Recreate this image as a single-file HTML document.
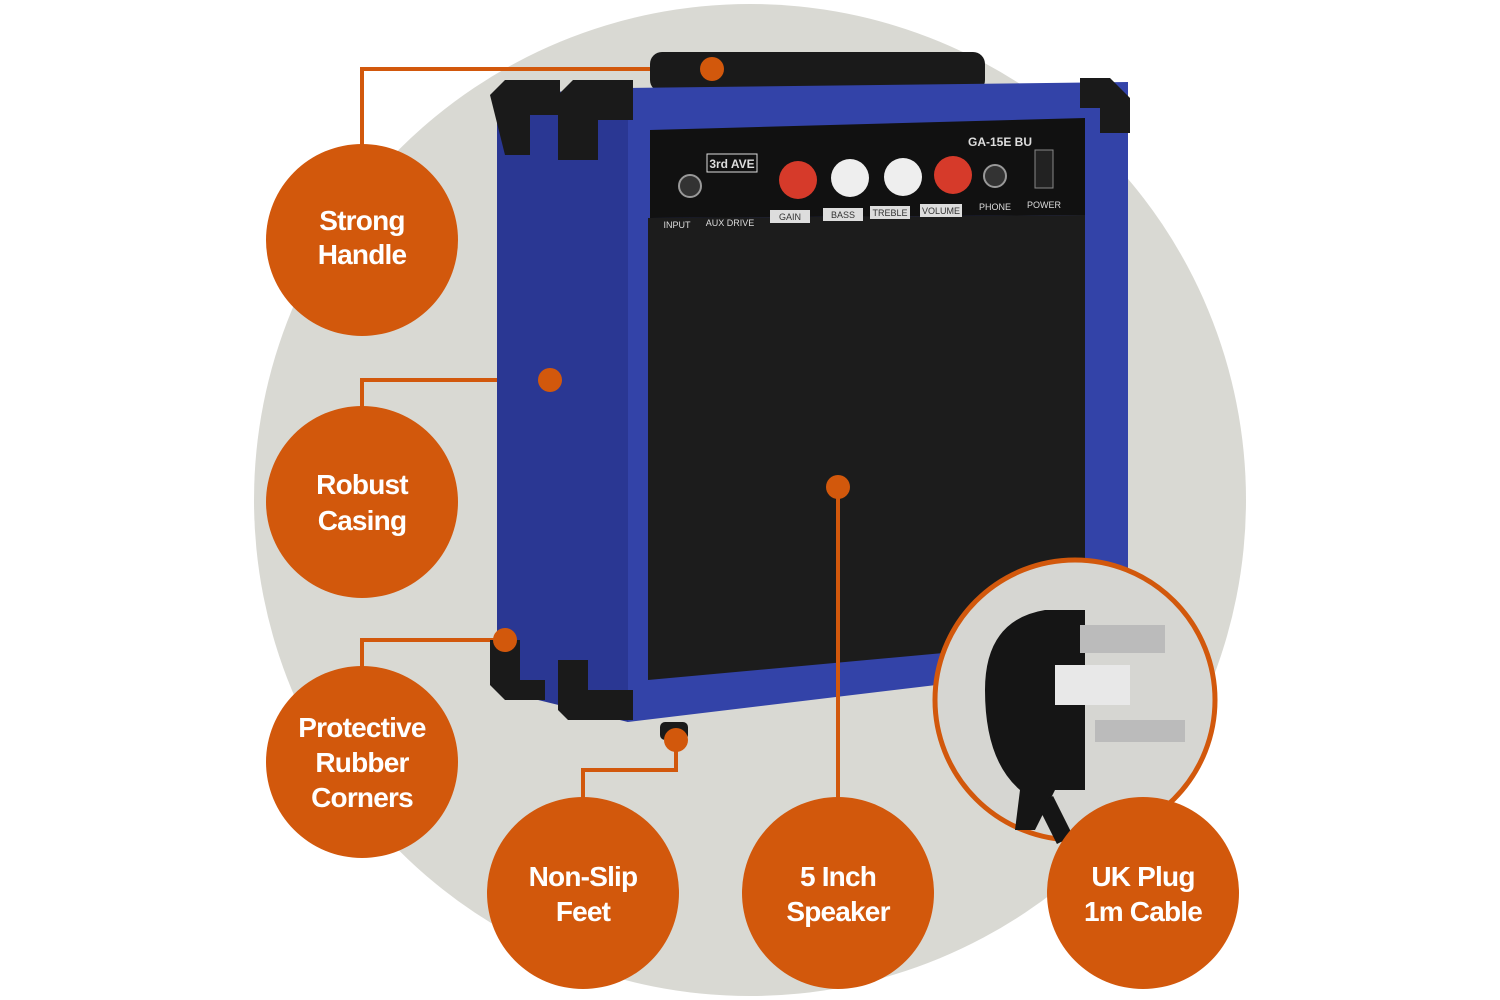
<!DOCTYPE html>
<html><head><meta charset="utf-8"><style>
html,body{margin:0;padding:0;background:#fff;width:1500px;height:1000px;overflow:hidden}
svg{display:block}
.t{font-family:"Liberation Sans Narrow","Liberation Sans",sans-serif;font-weight:bold;font-size:28px;letter-spacing:-0.8px;fill:#fff;text-anchor:middle}
.s{font-family:"Liberation Sans",sans-serif;font-size:9px;fill:#ddd;text-anchor:middle}
</style></head><body>
<svg width="1500" height="1000" viewBox="0 0 1500 1000">
<circle cx="750" cy="500" r="496" fill="#d9d9d3"/>
<g stroke="#d2580c" stroke-width="4" fill="none">
<polyline points="362,150 362,69 712,69"/>
<polyline points="362,410 362,380 550,380"/>
<polyline points="362,670 362,640 505,640"/>
<polyline points="583,800 583,770 676,770 676,740"/>
</g>
<!-- amp -->
<rect x="650" y="52" width="335" height="40" rx="12" fill="#1a1a1a"/>
<polygon points="497,95 628,88 628,722 497,690" fill="#2a3793"/>
<polygon points="628,88 1128,82 1128,662 628,722" fill="#3343a8"/>
<polygon points="650,130 1085,118 1085,215 650,218" fill="#111"/>
<polygon points="648,218 1085,215 1085,640 648,680" fill="#1c1c1c"/>
<circle cx="690" cy="186" r="11" fill="#333" stroke="#999" stroke-width="2"/>
<circle cx="798" cy="180" r="19" fill="#d63a2a"/>
<circle cx="850" cy="178" r="19" fill="#eee"/>
<circle cx="903" cy="177" r="19" fill="#eee"/>
<circle cx="953" cy="175" r="19" fill="#d63a2a"/>
<circle cx="995" cy="176" r="11" fill="#333" stroke="#999" stroke-width="2"/>
<rect x="1035" y="150" width="18" height="38" fill="#222" stroke="#888"/>
<rect x="707" y="154" width="50" height="18" fill="none" stroke="#ddd"/>
<text x="732" y="168" class="s" style="font-size:12px;font-weight:bold">3rd AVE</text>
<text x="1000" y="146" class="s" style="font-size:12px;font-weight:bold">GA-15E BU</text>
<rect x="770" y="210" width="40" height="13" fill="#ddd"/><text x="790" y="220" class="s" style="fill:#333">GAIN</text>
<rect x="823" y="208" width="40" height="13" fill="#ddd"/><text x="843" y="218" class="s" style="fill:#333">BASS</text>
<rect x="870" y="206" width="40" height="13" fill="#ddd"/><text x="890" y="216" class="s" style="fill:#333">TREBLE</text>
<rect x="920" y="204" width="42" height="13" fill="#ddd"/><text x="941" y="214" class="s" style="fill:#333">VOLUME</text>
<text x="677" y="228" class="s">INPUT</text><text x="730" y="226" class="s">AUX DRIVE</text>
<text x="995" y="210" class="s">PHONE</text><text x="1044" y="208" class="s">POWER</text>
<g fill="#1a1a1a">
<path d="M490,95 l15,-15 h55 v35 h-30 v40 h-25 z"/>
<path d="M558,95 l15,-15 h60 v40 h-35 v40 h-40 z"/>
<path d="M1080,78 h30 l20,20 v35 h-30 v-25 h-20 z"/>
<path d="M490,640 h30 v40 h25 v20 h-40 l-15,-15 z"/>
<path d="M558,660 h30 v30 h45 v30 h-65 l-10,-10 z"/>
<rect x="660" y="722" width="28" height="18" rx="5"/>
</g>
<line x1="838" y1="800" x2="838" y2="487" stroke="#d2580c" stroke-width="4"/>
<!-- plug circle -->
<circle cx="1075" cy="700" r="140" fill="#d6d6d2" stroke="#d2580c" stroke-width="5"/>
<path d="M985,690 q0,-70 60,-80 h40 v180 h-30 l-20,40 h-20 l5,-40 q-35,-30 -35,-100z" fill="#151515"/>
<rect x="1080" y="625" width="85" height="28" fill="#bbb"/>
<rect x="1095" y="720" width="90" height="22" fill="#bbb"/>
<rect x="1055" y="665" width="75" height="40" fill="#e8e8e8"/>
<path d="M1045,800 l20,40" stroke="#151515" stroke-width="18"/>
<g fill="#d2580c">
<circle cx="712" cy="69" r="12"/><circle cx="550" cy="380" r="12"/>
<circle cx="505" cy="640" r="12"/><circle cx="676" cy="740" r="12"/>
<circle cx="838" cy="487" r="12"/>
</g>
<g fill="#d2580c">
<circle cx="362" cy="240" r="96"/><circle cx="362" cy="502" r="96"/>
<circle cx="362" cy="762" r="96"/><circle cx="583" cy="893" r="96"/>
<circle cx="838" cy="893" r="96"/><circle cx="1143" cy="893" r="96"/>
</g>
<text class="t" x="362" y="230">Strong</text><text class="t" x="362" y="264">Handle</text>
<text class="t" x="362" y="494">Robust</text><text class="t" x="362" y="530">Casing</text>
<text class="t" x="362" y="737">Protective</text><text class="t" x="362" y="772">Rubber</text><text class="t" x="362" y="807">Corners</text>
<text class="t" x="583" y="886">Non-Slip</text><text class="t" x="583" y="921">Feet</text>
<text class="t" x="838" y="886">5 Inch</text><text class="t" x="838" y="921">Speaker</text>
<text class="t" x="1143" y="886">UK Plug</text><text class="t" x="1143" y="921">1m Cable</text>
</svg>
</body></html>
